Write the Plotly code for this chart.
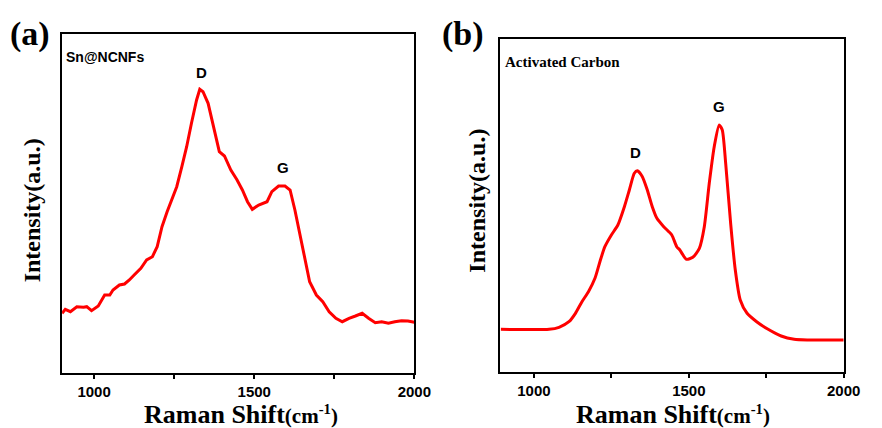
import plotly.graph_objects as go

# Panel (a): Sn@NCNFs
wn_a = [900, 910, 926, 946, 967, 977, 992, 1013, 1033, 1049, 1059, 1079, 1095, 1110, 1125,
        1146, 1164, 1182, 1197, 1212, 1228, 1243, 1258, 1274, 1289, 1304, 1320, 1330, 1340,
        1356, 1371, 1391, 1407, 1427, 1446, 1463, 1479, 1494, 1514, 1540, 1555, 1576, 1596,
        1612, 1627, 1642, 1658, 1673, 1694, 1714, 1734, 1755, 1775, 1796, 1816, 1837, 1857,
        1878, 1898, 1919, 1939, 1960, 1980, 2000]
int_a = [59.4, 63.4, 61, 66, 65.4, 66, 62, 66.7, 77.7, 77.7, 82.7, 87.7, 88.7, 92.7, 97.7,
         104.4, 112.7, 116, 126, 146, 161, 174.4, 186, 206, 226, 249.4, 272.7, 283.4, 281,
         269.4, 249.4, 221, 216.7, 202.7, 193, 182.7, 171, 163.4, 167.7, 171, 181, 186.7, 186.7,
         182.7, 162.7, 139.4, 112.7, 91, 77.7, 71, 61, 54.4, 51, 54.4, 56.7, 59.4, 54.4,
         50, 51, 49.4, 51, 52, 51.7, 50.4]

# Panel (b): Activated Carbon
wn_b = [893, 1049, 1081, 1113, 1134, 1155, 1176, 1197, 1213, 1229, 1250, 1271, 1292, 1308,
        1324, 1334, 1350, 1366, 1382, 1397, 1419, 1445, 1461, 1471, 1492, 1513, 1534, 1550,
        1566, 1582, 1598, 1608, 1619, 1635, 1650, 1666, 1688, 1719, 1756, 1798, 1840, 1882, 2000]
int_b = [42.4, 42.4, 44.4, 50, 58.4, 70, 80, 93.4, 110, 125, 136.7, 146.7, 165, 181.7,
         198.4, 201, 195, 181.7, 165, 153.4, 145, 136.7, 125, 121.7, 112.4, 114.4, 123.4, 145,
         188.4, 225, 246.7, 241.7, 208.4, 148.4, 101.7, 71.7, 58.4, 50, 42.4, 35.7, 32.4, 31.7, 31.7]

x_ticks = [1000, 1500, 2000]
x_minor = [1250, 1750]
peak_labels = ["D", "G"]
peak_a = [(1335, 300), (1591, 205)]
peak_b = [(1329, 219), (1598, 265)]

W, H = 882, 428
def px(x):
    return x / W
def py(y):
    return (H - y) / H

red = "#ff0000"
fig = go.Figure()
fig.add_trace(go.Scatter(x=wn_a, y=int_a, mode="lines", line=dict(color=red, width=3),
                         xaxis="x", yaxis="y", showlegend=False))
fig.add_trace(go.Scatter(x=wn_b, y=int_b, mode="lines", line=dict(color=red, width=3, shape="spline", smoothing=0.6),
                         xaxis="x2", yaxis="y2", showlegend=False))

tickfont = dict(family="Liberation Sans, Arial", size=15, color="black")
common_x = dict(showline=True, linecolor="black", linewidth=2, mirror=True, ticks="outside",
                ticklen=4, tickwidth=2, tickcolor="black", tickvals=x_ticks,
                ticktext=[f"<b>{v}</b>" for v in x_ticks], tickfont=tickfont,
                showgrid=False, zeroline=False,
                minor=dict(tickvals=x_minor, ticks="outside", ticklen=4, tickwidth=2, tickcolor="black"))
common_y = dict(showline=True, linecolor="black", linewidth=2, mirror=True, ticks="",
                showticklabels=False, showgrid=False, zeroline=False)

fig.update_layout(
    width=W, height=H, margin=dict(l=0, r=0, t=0, b=0),
    paper_bgcolor="white", plot_bgcolor="white",
    xaxis=dict(domain=[px(63.3), px(422.5)], range=[900, 2000], anchor="y", **common_x),
    yaxis=dict(domain=[py(372.7), py(34.3)], range=[0, 338.4], anchor="x", **common_y),
    xaxis2=dict(domain=[px(510.3), px(860.3)], range=[892, 2000], anchor="y2", **common_x),
    yaxis2=dict(domain=[py(371.7), py(39.3)], range=[0, 332.4], anchor="x2", **common_y),
)

serif = "Liberation Serif, Times New Roman"
sans = "Liberation Sans, Arial"
ann = []
for i, lab in enumerate(peak_labels):
    ann.append(dict(x=peak_a[i][0], y=peak_a[i][1], xref="x", yref="y", text=f"<b>{lab}</b>",
                    showarrow=False, font=dict(family=sans, size=15, color="black")))
    ann.append(dict(x=peak_b[i][0], y=peak_b[i][1], xref="x2", yref="y2", text=f"<b>{lab}</b>",
                    showarrow=False, font=dict(family=sans, size=15, color="black")))
# panel labels
ann.append(dict(x=px(8), y=py(34), xref="paper", yref="paper", xanchor="left", yanchor="middle",
                text="<b>(a)</b>", showarrow=False, font=dict(family=serif, size=34, color="black")))
ann.append(dict(x=px(449), y=py(34), xref="paper", yref="paper", xanchor="left", yanchor="middle",
                text="<b>(b)</b>", showarrow=False, font=dict(family=serif, size=34, color="black")))
# sample names
ann.append(dict(x=px(65), y=py(57), xref="paper", yref="paper", xanchor="left", yanchor="middle",
                text="<b>Sn@NCNFs</b>", showarrow=False, font=dict(family=sans, size=14, color="black")))
ann.append(dict(x=px(513), y=py(62), xref="paper", yref="paper", xanchor="left", yanchor="middle",
                text="<b>Activated Carbon</b>", showarrow=False, font=dict(family=serif, size=15, color="black")))
# axis titles
xt = "<b>Raman Shift<span style='font-size:21px'>(cm<sup>-1</sup>)</span></b>"
ann.append(dict(x=px(246), y=py(414), xref="paper", yref="paper", xanchor="center", yanchor="middle",
                text=xt, showarrow=False, font=dict(family=serif, size=26, color="black")))
ann.append(dict(x=px(686), y=py(414), xref="paper", yref="paper", xanchor="center", yanchor="middle",
                text=xt, showarrow=False, font=dict(family=serif, size=26, color="black")))
yt = "<b>Intensity(a.u.)</b>"
ann.append(dict(x=px(33), y=py(210), xref="paper", yref="paper", xanchor="center", yanchor="middle",
                text=yt, textangle=-90, showarrow=False, font=dict(family=serif, size=24, color="black")))
ann.append(dict(x=px(486), y=py(201), xref="paper", yref="paper", xanchor="center", yanchor="middle",
                text=yt, textangle=-90, showarrow=False, font=dict(family=serif, size=24, color="black")))
fig.update_layout(annotations=ann)

fig.write_html("out.html", config=dict(displayModeBar=False),
               post_script="document.body.style.margin='0';document.body.style.overflow='hidden';")
